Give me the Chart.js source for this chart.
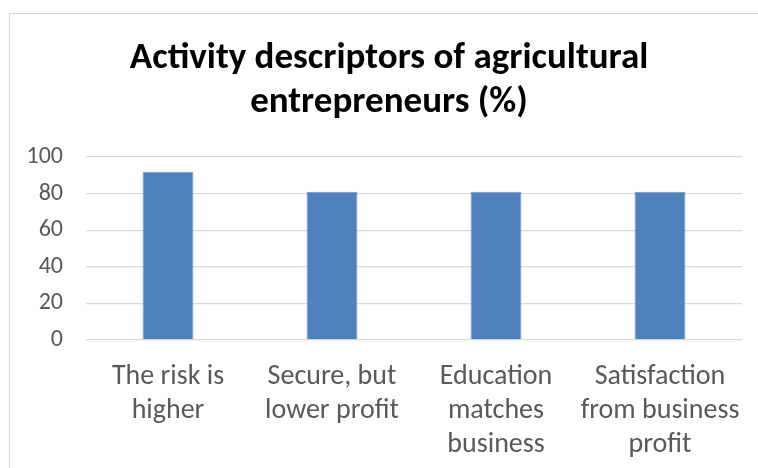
<!DOCTYPE html>
<html>
<head>
<meta charset="utf-8">
<script src="https://cdn.jsdelivr.net/npm/chart.js@4/dist/chart.umd.min.js"></script>
<style>
	html, body { margin: 0; padding: 0; background: #fff; overflow: hidden; }
	#wrap { position: relative; width: 758px; height: 468px; }
	#frame { position: absolute; left: 9px; top: 13px; width: 800px; height: 500px; border: 1px solid #d9d9d9; }
	#chart { position: absolute; left: 0; top: 0; }
</style>
</head>
<body>
<div id="wrap">
	<div id="frame"></div>
	<canvas id="chart" width="758" height="468"></canvas>
</div>
<script>
const titleLines = ["Activity descriptors of agricultural", "entrepreneurs (%)"];
const categories = [
	["The risk is", "higher"],
	["Secure, but", "lower profit"],
	["Education", "matches", "business"],
	["Satisfaction", "from business", "profit"]
];
const shares = [92, 81, 81, 81];
const yTicks = [0, 20, 40, 60, 80, 100];

const fontFamily = "Carlito, Lato, 'Open Sans', sans-serif";
const textGrey = '#595959';

// the title sits centred on the whole frame, not on the plot, so draw it by hand
const frameTitle = {
	id: 'frameTitle',
	afterDraw(chart) {
		const c = chart.ctx;
		c.save();
		c.fillStyle = '#000';
		c.font = `bold 37px ${fontFamily}`;
		c.textAlign = 'center';
		c.textBaseline = 'alphabetic';
		titleLines.forEach((line, i) => c.fillText(line, 389, 68 + i * 43.5));
		c.restore();
	}
};

const ctx = document.getElementById('chart');
new Chart(ctx, {
	type: 'bar',
	data: {
		labels: categories,
		datasets: [{
			label: 'share',
			data: shares,
			backgroundColor: '#4f81bd',
			borderColor: '#6f98cb',
			borderWidth: 1,
			categoryPercentage: 1,
			barPercentage: 0.31
		}]
	},
	options: {
		responsive: false,
		animation: false,
		layout: { padding: { top: 157, right: 16, left: 0, bottom: 0 } },
		plugins: {
			legend: { display: false },
			tooltip: { enabled: false },
			title: { display: false }
		},
		scales: {
			y: {
				min: 0,
				max: 100,
				afterBuildTicks: (scale) => { scale.ticks = yTicks.map(v => ({ value: v })); },
				afterFit: (scale) => { scale.width = 86; },
				border: { display: false },
				grid: { color: '#d9d9d9', lineWidth: 1.3, drawTicks: false },
				ticks: { color: textGrey, padding: 23, font: { family: fontFamily, size: 24 } }
			},
			x: {
				afterFit: (scale) => { scale.height = 128; },
				border: { display: false },
				grid: { display: false },
				ticks: {
					color: textGrey,
					padding: 12,
					maxRotation: 0,
					autoSkip: false,
					font: { family: fontFamily, size: 28, lineHeight: 1.214 }
				}
			}
		}
	},
	plugins: [frameTitle]
});
</script>
</body>
</html>
